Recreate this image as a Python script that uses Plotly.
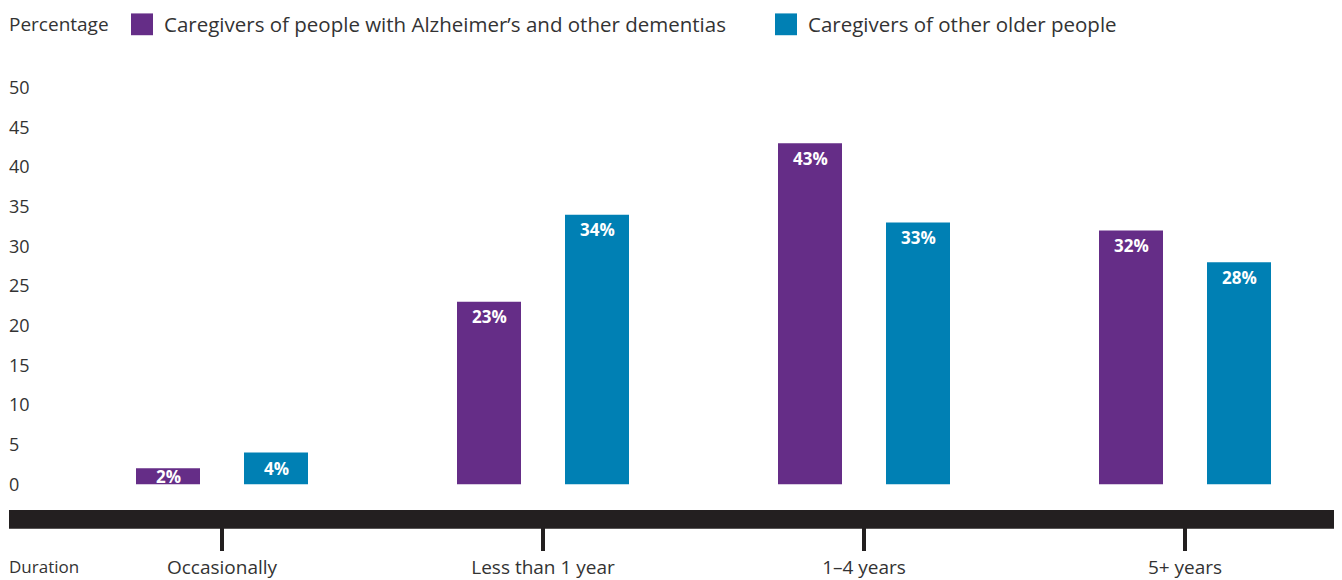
import plotly.graph_objects as go

categories = ["Occasionally", "Less than 1 year", "1–4 years", "5+ years"]
series_names = ["Caregivers of people with Alzheimer’s and other dementias",
                "Caregivers of other older people"]
alz_values = [2, 23, 43, 32]
other_values = [4, 34, 33, 28]
y_ticks = [0, 5, 10, 15, 20, 25, 30, 35, 40, 45, 50]

PURPLE = "#652d87"
BLUE = "#0080b4"
DARK = "#231f20"
TEXT = "#333333"
FONT = "Open Sans"

OFF = 8  # page body margin
W, H = 1342 - OFF, 580 - OFF
T, B = 60 - OFF, 580 - 514
PH = H - T - B  # plot height in px


def py(px):  # reference pixel y -> paper y
    return (580 - B - px) / PH


def pxx(px):  # reference pixel x -> paper x
    return (px - OFF) / W


unit = 321.0
cx0 = 222 - OFF
x_range = [-cx0 / unit, (W - cx0) / unit]
bar_w = 64 / unit
offsets = [-86 / unit, 22 / unit]
label_shift = [-54, 54]

fig = go.Figure()
for name, vals, col, off in zip(series_names, [alz_values, other_values],
                                [PURPLE, BLUE], offsets):
    fig.add_trace(go.Bar(x=categories, y=vals, name=name, marker_color=col,
                         marker_line_width=0, width=bar_w, offset=off,
                         showlegend=False, hoverinfo="skip"))

# value labels
for vals, sh in zip([alz_values, other_values], label_shift):
    for c, v in zip(categories, vals):
        if v >= 5:
            yy, ys = v, -15
        else:
            yy, ys = v / 2, 0
        fig.add_annotation(x=c, y=yy, xref="x", yref="y", text=f"<b>{v}%</b>",
                           showarrow=False, xshift=sh, yshift=ys,
                           font=dict(family=FONT, size=17, color="white"),
                           xanchor="center", yanchor="middle")

# black band
fig.add_shape(type="rect", xref="paper", yref="paper", x0=pxx(9), x1=1,
              y0=py(533), y1=py(514), fillcolor=DARK, line_width=0, layer="above")

# legend (manual)
fig.add_annotation(xref="paper", yref="paper", x=pxx(7), y=py(24), text="Percentage",
                   showarrow=False, xanchor="left", yanchor="middle",
                   font=dict(family=FONT, size=19, color=TEXT))
leg_sq_x = [131, 775]
leg_tx_x = [162, 806]
for name, col, sx, tx in zip(series_names, [PURPLE, BLUE], leg_sq_x, leg_tx_x):
    fig.add_shape(type="rect", xref="paper", yref="paper", x0=pxx(sx), x1=pxx(sx + 22),
                  y0=py(35), y1=py(13), fillcolor=col, line_width=0)
    fig.add_annotation(xref="paper", yref="paper", x=pxx(tx), y=py(24), text=name,
                       showarrow=False, xanchor="left", yanchor="middle",
                       font=dict(family=FONT, size=20.5, color=TEXT))

fig.add_annotation(xref="paper", yref="paper", x=pxx(7), y=py(571), text="Duration",
                   showarrow=False, xanchor="left", yanchor="middle",
                   font=dict(family=FONT, size=17, color=TEXT))

fig.update_layout(
    width=W, height=H,
    margin=dict(l=0, r=0, t=T, b=B),
    plot_bgcolor="white", paper_bgcolor="white",
    barmode="overlay",
    hovermode=False,
    font=dict(family=FONT, size=17, color=TEXT),
    xaxis=dict(range=x_range, showgrid=False, zeroline=False, showline=False,
               ticks="outside", ticklen=40, tickwidth=4, tickcolor=DARK,
               tickfont=dict(family=FONT, size=19, color=TEXT), ticklabelstandoff=0,
               fixedrange=True),
    yaxis=dict(range=[-26 / 8, (PH - 26) / 8], showgrid=False, zeroline=False,
               showline=False, tickvals=y_ticks, ticklabelposition="inside",
               tickfont=dict(family=FONT, size=18, color=TEXT), ticks="",
               ticklabelstandoff=-2, fixedrange=True),
)

fig.write_html("out.html", config={"displayModeBar": False})
